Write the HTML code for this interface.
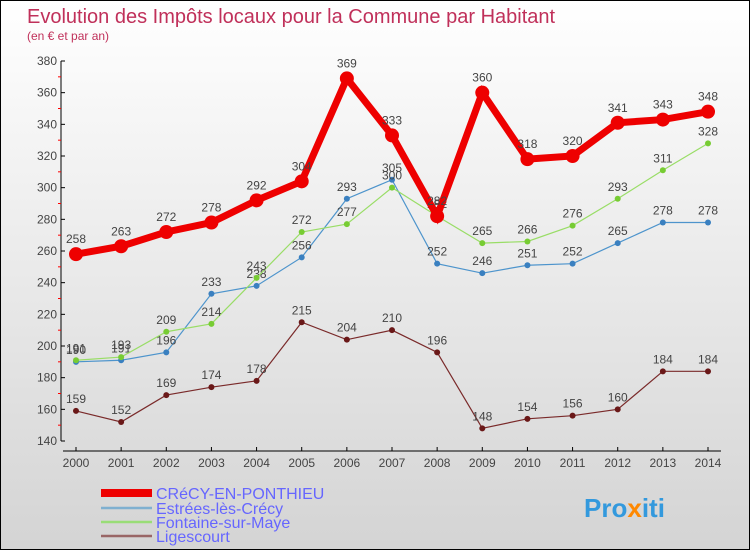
<!DOCTYPE html>
<html><head><meta charset="utf-8"><style>
body{margin:0}
#c{width:750px;height:550px;position:relative;overflow:hidden;box-sizing:border-box;border:1px solid #000;background:linear-gradient(#ffffff,#d4d4d4);font-family:"Liberation Sans",sans-serif}
</style></head><body>
<div id="c">
<svg id="s" width="750" height="550" style="position:absolute;left:0;top:0">
<text x="26" y="22" font-size="20" fill="#c0305a">Evolution des Impôts locaux pour la Commune par Habitant</text>
<text x="26" y="39" font-size="12" fill="#c0305a">(en € et par an)</text>
<g id="axes"></g><g id="series"></g><g id="legend"></g>
<text x="583" y="516" font-size="26" font-weight="bold" fill="#3399dd">Pro<tspan fill="#ff8800">x</tspan>iti</text>
</svg></div>
<script>
const years=[2000,2001,2002,2003,2004,2005,2006,2007,2008,2009,2010,2011,2012,2013,2014];
const yTicks=[140,160,180,200,220,240,260,280,300,320,340,360,380];
const crecy=[258,263,272,278,292,304,369,333,282,360,318,320,341,343,348];
const estrees=[190,191,196,233,238,256,293,305,252,246,251,252,265,278,278];
const fontaine=[191,193,209,214,243,272,277,300,282,265,266,276,293,311,328];
const ligescourt=[159,152,169,174,178,215,204,210,196,148,154,156,160,184,184];
const names=["CRéCY-EN-PONTHIEU","Estrées-lès-Crécy","Fontaine-sur-Maye","Ligescourt"];
const NS="http://www.w3.org/2000/svg";
const X=i=>75+i*(707-75)/(years.length-1);
const Y=v=>440-(v-140)*380/240;
function mk(t,a,p){const e=document.createElementNS(NS,t);for(const k in a)e.setAttribute(k,a[k]);p.appendChild(e);return e;}
const ax=document.getElementById('axes');
let l=mk('line',{x1:60,y1:Y(380),x2:60,y2:440,stroke:'#000'},ax);


l=mk('line',{x1:62,y1:450,x2:720,y2:450,stroke:'#000'},ax);


yTicks.forEach((v,i)=>{
 mk('line',{x1:60,y1:Y(v),x2:64,y2:Y(v),stroke:'#000'},ax);
 if(i<yTicks.length-1) mk('line',{x1:57,y1:Y(v+10),x2:60,y2:Y(v+10),stroke:'#f00'},ax);
 const t=mk('text',{x:56,y:Y(v)+4,'font-size':12,fill:'#444','text-anchor':'end'},ax);t.textContent=v;
 
 
});
years.forEach((y,i)=>{
 mk('line',{x1:X(i),y1:446,x2:X(i),y2:450,stroke:'#000'},ax);
 const t=mk('text',{x:X(i),y:466,'font-size':12,fill:'#444','text-anchor':'middle'},ax);t.textContent=y;
 
 
});
const sg=document.getElementById('series');
function series(d,col,dot,w,r,name){
 const g=mk('g',{},sg);
 
 
 mk('polyline',{points:d.map((v,i)=>X(i)+','+Y(v)).join(' '),fill:'none',stroke:col,'stroke-width':w},g);
 d.forEach((v,i)=>{
  const c=mk('circle',{cx:X(i),cy:Y(v),r:r,fill:dot},g);
  
  
  const t=mk('text',{x:X(i),y:Y(v)-8-(r>4?3:0),'font-size':12,fill:'#444','text-anchor':'middle'},g);t.textContent=v;
 });
}
series(ligescourt,'#7a2a2a','#6a1818',1.2,3,'series-ligescourt');
series(estrees,'#4d94cc','#3a80c0',1.2,3,'series-estrees');
series(fontaine,'#99dd66','#77cc33',1.2,3,'series-fontaine');
series(crecy,'#ee0000','#ee0000',7,7,'series-crecy');
const lg=document.getElementById('legend');
const lc=['#ee0000','#7fb0d0','#99dd77','#996666'],lw=[8,2.5,2.5,2.5],ly=[492,507,521,535];
names.forEach((n,i)=>{
 const g=mk('g',{},lg);
 
 
 mk('line',{x1:100,y1:ly[i],x2:151,y2:ly[i],stroke:lc[i],'stroke-width':lw[i]},g);
 const t=mk('text',{x:155,y:ly[i]+6,'font-size':16,fill:'#6666ff'},g);t.textContent=n;
});
</script>
</body></html>
